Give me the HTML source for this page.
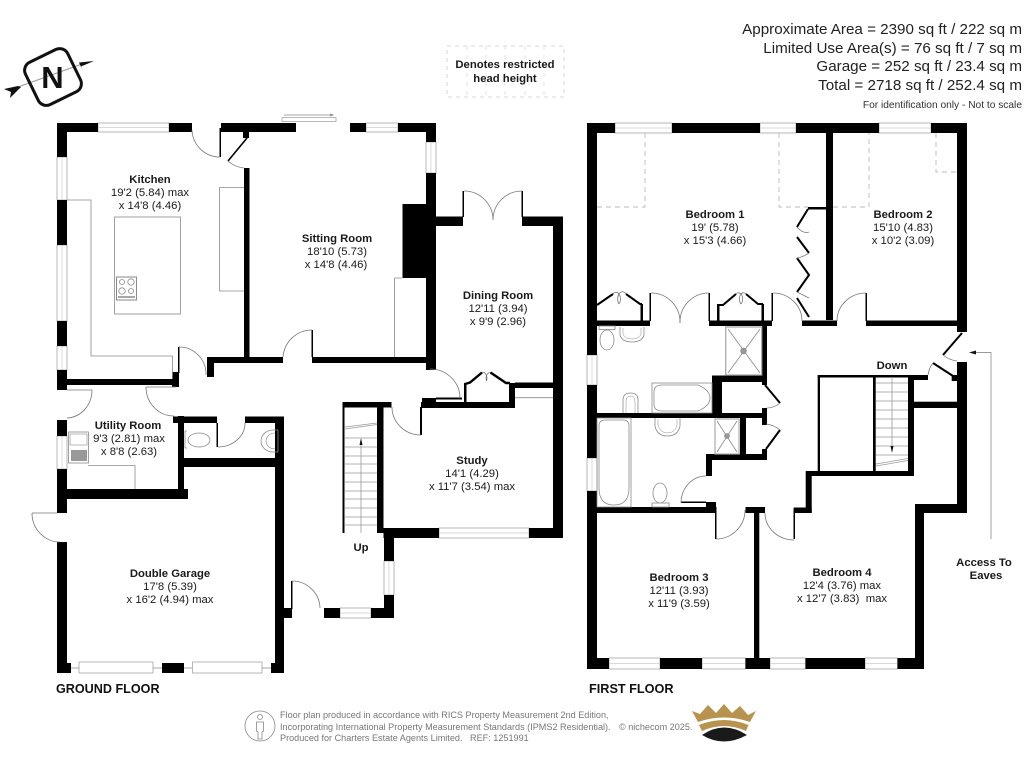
<!DOCTYPE html>
<html><head><meta charset="utf-8"><style>
html,body{margin:0;padding:0;background:#fff;width:1024px;height:768px;overflow:hidden}
svg{display:block}
text{font-family:"Liberation Sans",sans-serif;fill:#1a1a1a;font-size:11.3px;text-anchor:middle}
.b{font-weight:bold}
.g{stroke:#8a8a8a;stroke-width:.8;fill:none}
.k{stroke:#000;stroke-width:2.4;fill:none}
.d{stroke:#bbb;stroke-width:.9;fill:none;stroke-dasharray:5 4}
.w{fill:#fff;stroke:#999;stroke-width:.7}
.wl{stroke:#ccc;stroke-width:.7}
.a{stroke:#777;stroke-width:.8;fill:none}
.f{font-size:9.1px;fill:#777;text-anchor:start}
.h{font-size:15.2px;text-anchor:end;fill:#222}
</style></head><body>
<svg width="1024" height="768" viewBox="0 0 1024 768" xmlns="http://www.w3.org/2000/svg">
<rect width="1024" height="768" fill="#fff"/>

<!-- Header -->
<text class="h" x="1022" y="34">Approximate Area = 2390 sq ft / 222 sq m</text>
<text class="h" x="1022" y="53">Limited Use Area(s) = 76 sq ft / 7 sq m</text>
<text class="h" x="1022" y="71">Garage = 252 sq ft / 23.4 sq m</text>
<text class="h" x="1022" y="90">Total = 2718 sq ft / 252.4 sq m</text>
<text x="1022" y="108" style="font-size:10.2px;text-anchor:end;fill:#333">For identification only - Not to scale</text>

<!-- Restricted head height -->
<rect x="447" y="46" width="117" height="51" fill="none" stroke="#ccc" stroke-width=".8" stroke-dasharray="4 4"/>
<path d="M467 46V97M486 46V97M505 46V97M525 46V97M544 46V97" stroke="#ddd" stroke-width=".8" stroke-dasharray="4 5" fill="none"/>
<text class="b" x="505" y="68">Denotes restricted</text>
<text class="b" x="505" y="82">head height</text>

<!-- Compass -->
<g>
<line x1="18" y1="87" x2="82" y2="64" stroke="#999" stroke-width="1"/>
<rect x="29.500" y="53.500" width="47" height="47" rx="9" fill="none" stroke="#111" stroke-width="3" transform="rotate(-26 53 77)"/>
<path d="M94 61L79 62.500L82.700 70.700L81 66.500Z" fill="#111"/>
<path d="M4 89L18 86L21 87L10 98L11 92Z" fill="#111"/>
<text class="b" x="52.500" y="88" style="font-size:31px;fill:#111">N</text>
</g>

<!-- WINDOWS ground floor -->
<g>
<rect class="w" x="98" y="123" width="71" height="9"/><line class="wl" x1="98" y1="127.500" x2="169" y2="127.500"/>
<rect class="w" x="366" y="123" width="32" height="9"/><line class="wl" x1="366" y1="127.500" x2="398" y2="127.500"/>
<rect class="w" x="426" y="142" width="10" height="31"/><line class="wl" x1="431" y1="142" x2="431" y2="173"/>
<rect class="w" x="57" y="157" width="10" height="43"/><line class="wl" x1="62" y1="157" x2="62" y2="200"/>
<rect class="w" x="57" y="245" width="10" height="76"/><line class="wl" x1="62" y1="245" x2="62" y2="321"/>
<rect class="w" x="57" y="346" width="10" height="24"/><line class="wl" x1="62" y1="346" x2="62" y2="370"/>
<rect class="w" x="57" y="436" width="10" height="33"/><line class="wl" x1="62" y1="436" x2="62" y2="469"/>
<rect class="w" x="439" y="528" width="90" height="10"/><line class="wl" x1="439" y1="533" x2="529" y2="533"/>
<rect class="w" x="384" y="561" width="10" height="34"/><line class="wl" x1="389" y1="561" x2="389" y2="595"/>
<rect class="w" x="340" y="608" width="31" height="10"/><line class="wl" x1="340" y1="613" x2="371" y2="613"/>
<rect class="w" x="79" y="662" width="74" height="11"/>
<rect class="w" x="192.500" y="662" width="69.500" height="11"/>
<path class="g" d="M71 668H79M153 668H162M184 668H192M262 668H271"/>
<!-- sliding door -->
<rect class="w" x="282" y="117.500" width="54" height="4"/>
<path class="g" d="M284 115H333M330 114L333 115L330 116"/>
</g>

<!-- WALLS ground floor -->
<g fill="#000">
<rect x="57" y="123" width="41" height="9"/>
<rect x="169" y="123" width="23" height="9"/>
<rect x="221" y="123" width="75" height="9"/>
<rect x="350" y="123" width="16" height="9"/>
<rect x="398" y="123" width="38" height="9"/>
<rect x="426" y="132" width="10" height="10"/>
<rect x="426" y="173" width="10" height="197"/>
<rect x="402.500" y="204" width="24" height="74"/>
<rect x="436" y="216.500" width="27" height="9.500"/>
<rect x="522" y="216.500" width="41" height="9.500"/>
<rect x="553" y="216.500" width="10" height="321.500"/>
<rect x="515" y="382.500" width="38" height="5.500"/>
<rect x="509" y="383" width="6" height="25"/>
<rect x="421" y="402" width="94" height="6"/>
<rect x="422" y="398" width="14" height="5"/>
<rect x="436" y="397.500" width="26" height="2"/>
<rect x="464" y="383" width="2.500" height="20"/>
<rect x="420" y="407" width="2" height="28"/>
<rect x="383.500" y="528" width="55.500" height="10"/>
<rect x="529" y="528" width="34" height="10"/>
<rect x="384" y="528" width="10" height="33"/>
<rect x="384" y="595" width="10" height="23"/>
<rect x="371" y="608" width="23" height="10"/>
<rect x="324" y="608" width="16" height="10"/>
<rect x="343" y="402" width="48.500" height="5.500"/>
<rect x="342.500" y="402" width="2" height="131"/>
<rect x="377" y="402" width="6.500" height="131"/>
<!-- kitchen / sitting -->
<rect x="244" y="168" width="5.500" height="190"/>
<rect x="243" y="132" width="6" height="6"/>
<rect x="208" y="357" width="75" height="6"/>
<rect x="312" y="357" width="114" height="6"/>
<rect x="207" y="357" width="7" height="20"/>
<rect x="57" y="132" width="10" height="25"/>
<rect x="57" y="200" width="10" height="45"/>
<rect x="57" y="321" width="10" height="25"/>
<rect x="57" y="370" width="10" height="20"/>
<rect x="67" y="379" width="111" height="6"/>
<rect x="172" y="372" width="7" height="15"/>
<rect x="178" y="347" width="1.500" height="26"/>
<rect x="219.500" y="128" width="1.500" height="29"/>
<rect x="311.500" y="330" width="1.500" height="27"/>
<!-- utility & wc -->
<rect x="57" y="420" width="10" height="16"/>
<rect x="57" y="469" width="10" height="44"/>
<rect x="57" y="489" width="131" height="10"/>
<rect x="178" y="416" width="6" height="74"/>
<rect x="173" y="416.500" width="44" height="6.500"/>
<rect x="245" y="416.500" width="39" height="6.500"/>
<rect x="178" y="458" width="106" height="9"/>
<rect x="216.500" y="423" width="1.500" height="24"/>
<rect x="275" y="417" width="9" height="256"/>
<rect x="275" y="608" width="17" height="10"/>
<rect x="291" y="581" width="1.500" height="28"/>
<rect x="57" y="542" width="10" height="131"/>
<rect x="57" y="663" width="14" height="10"/>
<rect x="162" y="663" width="22" height="10"/>
<rect x="271" y="663" width="13" height="10"/>
<!-- dining jambs -->
<rect x="462.500" y="191" width="1.500" height="26"/>
<rect x="521.500" y="191" width="1.500" height="26"/>
</g>
<path class="k" d="M465 384L470 382.500L482 372.500M490.500 372.500L506 383L510 383"/>
<path class="k" d="M247 138L228 161" style="stroke-width:1.600"/>

<!-- Door arcs ground -->
<g class="a">
<path d="M192 130A28 28 0 0 0 220 157"/>
<path d="M228 161A28 28 0 0 0 244 168"/>
<path d="M312 330A29 29 0 0 0 283 357"/>
<path d="M179 347A27 27 0 0 1 206 375"/>
<path d="M92 390A26 28 0 0 1 67 418"/>
<path d="M67 390H92M146 387H176"/>
<path d="M146 387A28 29 0 0 0 174 416"/>
<path d="M218 447A27 24 0 0 0 245 423"/>
<path d="M292 581A28 28 0 0 1 320 608"/>
<path d="M32 513H57M32 513A28 29 0 0 0 60 542"/>
<path d="M392 407A29 28 0 0 0 421 435"/>
<path d="M430 369A30 29 0 0 1 460 398"/>
<path d="M464 191A29 29 0 0 1 493 220"/>
<path d="M522 191A29 29 0 0 0 493 220"/>
<path d="M482 372.500A4 6 0 0 1 486.500 381M490.500 372.500A4 6 0 0 0 486.500 381"/>
</g>

<!-- Kitchen units -->
<g class="g">
<path d="M67 200H91V356H172.500V379"/>
<path d="M244 187.500H219.500V291H244"/>
<rect x="114.500" y="217" width="66" height="97"/>
<rect x="116.500" y="277" width="20" height="23" stroke-width="1"/>
<circle cx="122" cy="282" r="2.500"/><circle cx="131" cy="282" r="3.200"/><circle cx="122" cy="291" r="3.200"/><circle cx="131" cy="291" r="2.500"/>
<line x1="118" y1="297" x2="135" y2="297" stroke-width="1.500"/>
<path d="M394.500 278V357M394.500 278H402"/>
<!-- Utility -->
<rect x="68.500" y="432" width="20" height="31"/>
<path d="M88 465.500H135V489"/>
<rect x="70" y="434" width="17" height="11" stroke-width=".6"/>
<path d="M515 397.700H553"/>
<!-- Wc -->
<path d="M187 431H185V448H187"/>
<ellipse cx="199" cy="440" rx="11" ry="7"/>
<path d="M278 430H273A12 11 0 0 0 273 452H278V430"/>
<path d="M275 433A9 8 0 0 0 275 449" stroke-width=".6"/>
</g>
<path d="M72 450V461M74 450V461M76 450V461M78 450V461M80 450V461M82 450V461M84 450V461M86 450V461" stroke="#333" stroke-width="1"/>
<!-- Stairs ground -->
<g class="g" style="stroke:#999">
<path d="M345 438H377M345 447H377M345 456H377M345 464H377M345 473H377M345 482H377M345 491H377M345 499H377M345 508H377M345 517H377M345 525H377"/>
<path d="M345 429L377 424.500M345 427L377 423"/>
<path d="M361 440V533"/>
</g>
<path d="M361 438L359.500 445H362.500Z" fill="#111"/>

<!-- WINDOWS first floor -->
<g>
<rect class="w" x="615" y="123" width="57" height="10"/><line class="wl" x1="615" y1="128" x2="672" y2="128"/>
<rect class="w" x="760" y="123" width="36" height="10"/><line class="wl" x1="760" y1="128" x2="796" y2="128"/>
<rect class="w" x="879" y="123" width="52" height="10"/><line class="wl" x1="879" y1="128" x2="931" y2="128"/>
<rect class="w" x="587" y="355" width="10" height="30"/><line class="wl" x1="592" y1="355" x2="592" y2="385"/>
<rect class="w" x="587" y="458" width="10" height="33"/><line class="wl" x1="592" y1="458" x2="592" y2="491"/>
<rect class="w" x="609" y="658" width="51" height="11"/><line class="wl" x1="609" y1="663.500" x2="660" y2="663.500"/>
<rect class="w" x="702" y="658" width="43.500" height="11"/><line class="wl" x1="702" y1="663.500" x2="745" y2="663.500"/>
<rect class="w" x="770" y="658" width="35.500" height="11"/><line class="wl" x1="770" y1="663.500" x2="805" y2="663.500"/>
<rect class="w" x="865" y="658" width="32.500" height="11"/><line class="wl" x1="865" y1="663.500" x2="897" y2="663.500"/>
</g>

<!-- WALLS first floor -->
<g fill="#000">
<rect x="587" y="123" width="28" height="10"/>
<rect x="672" y="123" width="88" height="10"/>
<rect x="796" y="123" width="83" height="10"/>
<rect x="931" y="123" width="36" height="10"/>
<rect x="957" y="123" width="10" height="209"/>
<rect x="957" y="362" width="10" height="151"/>
<rect x="915" y="504" width="52" height="9"/>
<rect x="915" y="504" width="9" height="165"/>
<rect x="587" y="123" width="10" height="232"/>
<rect x="587" y="385" width="10" height="73"/>
<rect x="587" y="491" width="10" height="178"/>
<rect x="587" y="658" width="22" height="11"/>
<rect x="660" y="658" width="42" height="11"/>
<rect x="745.500" y="658" width="24.500" height="11"/>
<rect x="805.500" y="658" width="59.500" height="11"/>
<rect x="897.500" y="658" width="26.500" height="11"/>
<!-- bed1/2 partition -->
<rect x="826" y="133" width="7" height="187"/>
<rect x="808" y="207" width="18" height="2.500"/>
<rect x="597" y="320.500" width="53" height="5.500"/>
<rect x="709" y="320.500" width="63" height="5.500"/>
<rect x="802" y="320.500" width="35" height="5.500"/>
<rect x="866" y="320.500" width="91" height="5.500"/>
<rect x="649.500" y="293" width="1.500" height="28"/>
<rect x="708.500" y="293" width="1.500" height="28"/>
<rect x="771.500" y="293" width="1.500" height="28"/>
<rect x="865.500" y="293" width="1.500" height="28"/>
<rect x="640.500" y="304" width="2.500" height="17"/>
<rect x="717" y="304" width="2.500" height="17"/>
<rect x="761.500" y="304" width="2.500" height="17"/>
<!-- ensuite -->
<rect x="762" y="326" width="5" height="55"/>
<rect x="712" y="375.500" width="55" height="6.500"/>
<rect x="712" y="376" width="10" height="38"/>
<rect x="597" y="413" width="170" height="5"/>
<rect x="762" y="380" width="5" height="5"/>
<rect x="762" y="408" width="5" height="17"/>
<rect x="762" y="449" width="5" height="11"/>
<rect x="706" y="454" width="61" height="6"/>
<rect x="706" y="454" width="6" height="22"/>
<rect x="740" y="418" width="6" height="42"/>
<rect x="681" y="501.500" width="25" height="1.500"/>
<rect x="706" y="502" width="10" height="7"/>
<rect x="587" y="507" width="129" height="6"/>
<rect x="715" y="507" width="1.500" height="32"/>
<rect x="745.500" y="507" width="19.500" height="6"/>
<rect x="754" y="513" width="5.300" height="146"/>
<rect x="793.500" y="508" width="1.500" height="31"/>
<rect x="794" y="507.500" width="17.700" height="5.500"/>
<rect x="805.700" y="471" width="6" height="42"/>
<rect x="806" y="471" width="108" height="5"/>
<rect x="908" y="375" width="6" height="101"/>
<rect x="817.700" y="375" width="2.300" height="96"/>
<rect x="817.700" y="375" width="91" height="2.500"/>
<rect x="873" y="377" width="2.700" height="94"/>
<rect x="908" y="375" width="20" height="5"/>
<rect x="914" y="401.700" width="43" height="6.300"/>
<rect x="951.700" y="375" width="5.300" height="6"/>
</g>
<!-- cupboard / wardrobe leaves -->
<g class="k" style="stroke-width:2">
<path d="M597 305L613 294M626 294L640 304H642"/>
<path d="M718 305H723L736 294M746 294L758 304H763"/>
<path d="M808 209L797 227M797 237L809 253M797 258L809 275L797 292M797 298L809 317"/>
<path d="M765 385L780 403M766 449L780 430M953 376L933 363M962 333L943 355"/>
</g>
<!-- dashed restricted head height -->
<g class="d">
<path d="M597 207H645V133"/>
<path d="M779 133V207H808"/>
<path d="M833 207H869V133"/>
<path d="M936 133V172H957"/>
</g>
<!-- Door arcs first -->
<g class="a">
<path d="M651 293A29 29 0 0 1 680 323"/>
<path d="M709 293A29 29 0 0 0 680 323"/>
<path d="M773 293A29 28 0 0 1 802 321"/>
<path d="M866 293A29 28 0 0 0 837 321"/>
<path d="M613 294A4 6 0 0 1 619 304M626 294A4 6 0 0 0 619 304"/>
<path d="M736 294A4 6 0 0 1 741 304M746 294A4 6 0 0 0 741 304"/>
<path d="M797 227Q803 234 809 232M809 253Q803 257 797 258M797 292Q803 295 809 298"/>
<path d="M780 403Q774 408 767 408M780 430Q774 425 766 424"/>
<path d="M933 363Q929 368 928 375M943 355Q949 360 957 361"/>
<path d="M706 476A25 27 0 0 0 681 503"/>
<path d="M716 539A29 29 0 0 0 745 510"/>
<path d="M765 513A29 27 0 0 0 794 540"/>
</g>
<!-- Sanitary first -->
<g class="g">
<rect x="599" y="326" width="16" height="3.500"/>
<ellipse cx="607" cy="340" rx="7" ry="10"/>
<path d="M620 327V335Q622 342 632 342Q642 342 644 335V327"/>
<path d="M623 328V334Q625 339 632 339Q639 339 641 334V328" stroke-width=".5"/>
<rect x="725.700" y="327" width="36" height="48" stroke-width="1.300" stroke="#aaa"/>
<path d="M728 329L760 373M760 329L728 373"/>
<circle cx="743.500" cy="351" r="2.800" fill="#999"/>
<path d="M623 413V400Q623 393 630.500 393Q638 393 638 400V413"/>
<path d="M626 413V402Q626 396 630.500 396Q635 396 635 402V413" stroke-width=".5"/>
<rect x="652" y="383" width="60" height="30"/>
<path d="M662 385H698Q710 390 710 398Q710 406 698 411H662Q654 411 654 404V392Q654 385 662 385Z"/>
<rect x="597" y="418" width="34" height="89"/>
<path d="M599 426Q599 420 605 420H623Q629 420 629 426V488Q629 505 614 505Q599 505 599 488Z"/>
<path d="M655 418V426Q657 436 667.500 436Q678 436 680 426V418"/>
<path d="M658 419V425Q660 433 667.500 433Q675 433 677 425V419" stroke-width=".5"/>
<rect x="715" y="419" width="24" height="35" stroke="#aaa" stroke-width="1.200"/>
<path d="M717 421L737 452M737 421L717 452"/>
<circle cx="727" cy="436" r="2.400" fill="#999"/>
<ellipse cx="660" cy="493" rx="7" ry="10"/>
<rect x="652" y="503" width="17" height="4"/>
</g>
<!-- Stairs first -->
<g class="g" style="stroke:#999">
<path d="M876 383H908M876 392H908M876 401H908M876 410H908M876 419H908M876 428H908M876 437H908M876 446H908M876 455H908"/>
<path d="M876 466L908 460.500M876 464L908 458.500"/>
<path d="M892 377V451"/>
</g>
<path d="M892 453L890.500 446H893.500Z" fill="#111"/>
<!-- access to eaves -->
<path d="M975 352.500H991V539" fill="none" stroke="#999" stroke-width=".9"/>
<path d="M969 352.500L976 350.500V354.500Z" fill="#111"/>

<!-- Labels -->
<text class="b" x="150" y="183">Kitchen</text><text x="150" y="196">19'2 (5.84) max</text><text x="150" y="209">x 14'8 (4.46)</text>
<text class="b" x="337" y="242">Sitting Room</text><text x="337" y="255">18'10 (5.73)</text><text x="336" y="268">x 14'8 (4.46)</text>
<text class="b" x="498" y="299">Dining Room</text><text x="498" y="312">12'11 (3.94)</text><text x="498" y="325">x 9'9 (2.96)</text>
<text class="b" x="128" y="429">Utility Room</text><text x="129" y="442">9'3 (2.81) max</text><text x="129" y="455">x 8'8 (2.63)</text>
<text class="b" x="170" y="577">Double Garage</text><text x="170" y="590">17'8 (5.39)</text><text x="170" y="603">x 16'2 (4.94) max</text>
<text class="b" x="472" y="464">Study</text><text x="472" y="477">14'1 (4.29)</text><text x="472" y="490">x 11'7 (3.54) max</text>
<text class="b" x="361" y="551">Up</text>
<text class="b" x="715" y="218">Bedroom 1</text><text x="715" y="231">19' (5.78)</text><text x="715" y="244">x 15'3 (4.66)</text>
<text class="b" x="903" y="218">Bedroom 2</text><text x="903" y="231">15'10 (4.83)</text><text x="903" y="244">x 10'2 (3.09)</text>
<text class="b" x="679" y="581">Bedroom 3</text><text x="679" y="594">12'11 (3.93)</text><text x="679" y="607">x 11'9 (3.59)</text>
<text class="b" x="842" y="576">Bedroom 4</text><text x="842" y="589">12'4 (3.76) max</text><text x="842" y="602">x 12'7 (3.83)&#160; max</text>
<text class="b" x="892" y="369">Down</text>
<text class="b" x="984" y="566">Access To</text><text class="b" x="986" y="579">Eaves</text>
<text class="b" x="56" y="693" style="font-size:12.6px;text-anchor:start;fill:#111">GROUND FLOOR</text>
<text class="b" x="589" y="693" style="font-size:12.7px;text-anchor:start;fill:#111">FIRST FLOOR</text>

<!-- Footer -->
<circle cx="260" cy="726" r="15" fill="none" stroke="#888" stroke-width=".8"/>
<circle cx="260" cy="717" r="2.500" fill="none" stroke="#888" stroke-width=".8"/>
<path d="M256.500 722H263.500V731L262 732V739H258V732L256.500 731Z" fill="none" stroke="#888" stroke-width=".8"/>
<text class="f" x="280" y="718">Floor plan produced in accordance with RICS Property Measurement 2nd Edition,</text>
<text class="f" x="280" y="730">Incorporating International Property Measurement Standards (IPMS2 Residential).</text>
<text class="f" x="280" y="741">Produced for Charters Estate Agents Limited.&#160;&#160; REF: 1251991</text>
<text class="f" x="619" y="730">© nichecom 2025.</text>
<!-- crown -->
<path d="M692 711L700 714L708 705L716 713L724 704L732 713L740 706L748 715L756 711L750 722Q724 713 698 722Z" fill="#b7934e"/>
<path d="M699 725Q724 715 748.500 725L746 731Q724 721 702 731Z" fill="#b7934e"/>
<path d="M702 735Q724 720 747 735Q735 741.500 724 741.500Q713 741.500 702 735Z" fill="#1a1a1a"/>
</svg>
</body></html>
